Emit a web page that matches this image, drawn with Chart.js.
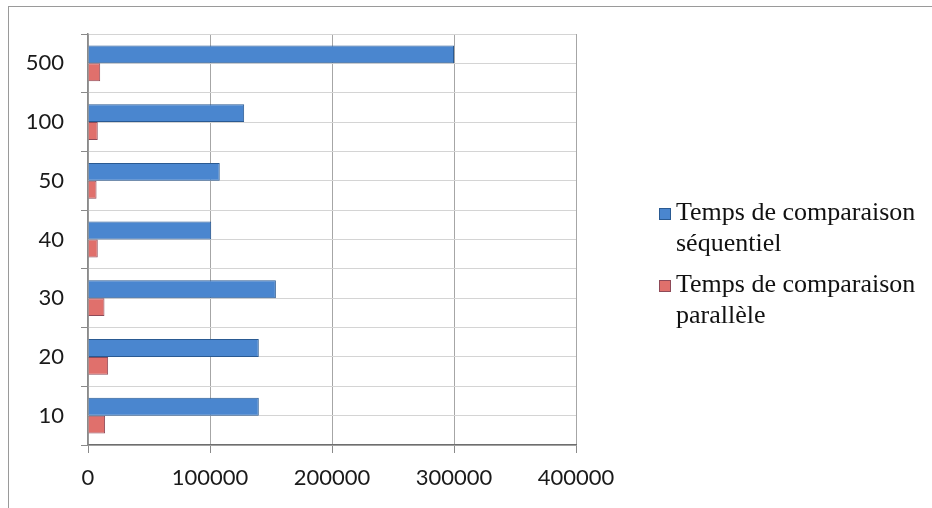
<!DOCTYPE html>
<html lang="fr">
<head>
<meta charset="utf-8">
<script src="https://cdn.jsdelivr.net/npm/chart.js@4.4.1/dist/chart.umd.min.js"></script>
<style>
  html, body { margin: 0; padding: 0; background: #fff; }
  #wrap { position: relative; width: 932px; height: 508px; overflow: hidden; }
  #frame { position: absolute; left: 8px; top: 6px; right: -2px; bottom: -2px;
           border-left: 1.5px solid #9a9a9a; border-top: 1.5px solid #9a9a9a; }
  #c { position: absolute; left: 0; top: 0; }
  #legend { position: absolute; left: 659px; top: 196px; font-family: "Liberation Serif", "Times New Roman", serif;
            font-size: 26px; line-height: 31px; color: #111; }
  .item { position: relative; padding-left: 17px; margin-bottom: 10px; }
  .box { position: absolute; left: 0; top: 12px; width: 12px; height: 12px; box-sizing: border-box; }
</style>
</head>
<body>
<div id="wrap">
  <div id="frame"></div>
  <canvas id="c" width="932" height="508"></canvas>
  <div id="legend"></div>
</div>
<script>
// Number of compared items (top to bottom) and comparison times
const categories = ['500', '100', '50', '40', '30', '20', '10'];
const sequentialTimes = [300000, 128000, 108000, 101000, 154000, 140000, 140000];
const parallelTimes = [10000, 8000, 7000, 8000, 13500, 16500, 14000];
const seriesNames = [['Temps de comparaison', 'séquentiel'], ['Temps de comparaison', 'parallèle']];
const xTicks = [0, 100000, 200000, 300000, 400000];

const colors = [
  { fill: '#4a86cf', border: '#2a5a92' },
  { fill: '#e0706c', border: '#8e4a58' }
];

const tickFont = { family: 'Lato, "Open Sans", sans-serif', size: 22 };

const chart = new Chart(document.getElementById('c'), {
  type: 'bar',
  data: {
    labels: categories,
    datasets: [
      { label: seriesNames[0].join(' '), data: sequentialTimes,
        backgroundColor: colors[0].fill, borderColor: colors[0].border, borderWidth: 1,
        categoryPercentage: 0.61, barPercentage: 1.0 },
      { label: seriesNames[1].join(' '), data: parallelTimes,
        backgroundColor: colors[1].fill, borderColor: colors[1].border, borderWidth: 1,
        categoryPercentage: 0.61, barPercentage: 1.0 }
    ]
  },
  options: {
    indexAxis: 'y',
    responsive: false,
    animation: false,
    layout: { padding: { left: 0, right: 356, top: 34, bottom: 0 } },
    plugins: { legend: { display: false }, tooltip: { enabled: false } },
    scales: {
      x: {
        min: 0, max: 400000,
        afterBuildTicks: s => { s.ticks = xTicks.map(v => ({ value: v })); },
        afterFit: s => { s.height = 63; },
        ticks: { font: tickFont, color: '#1a1a1a', padding: 12, maxRotation: 0,
                 callback: v => String(v) },
        grid: { color: '#a6a6a6', lineWidth: 1, tickLength: 8, tickColor: '#8a8a8a' },
        border: { display: true, color: '#6e6e6e', width: 1.5 }
      },
      y: {
        afterFit: s => { s.width = 88; },
        ticks: { font: tickFont, color: '#1a1a1a', padding: 17 },
        grid: { offset: true, color: '#d4d4d4', lineWidth: 1, tickLength: 7, tickColor: '#8a8a8a' },
        border: { display: true, color: '#8a8a8a', width: 1.5 }
      },
      yMid: {
        type: 'category',
        axis: 'y',
        position: 'right',
        labels: categories,
        offset: true,
        afterFit: s => { s.width = 0; },
        ticks: { display: false },
        grid: { offset: false, color: '#d4d4d4', lineWidth: 1, drawTicks: false },
        border: { display: false }
      }
    }
  }
});

// Legend built from the dataset names and colours
const legend = document.getElementById('legend');
seriesNames.forEach((lines, i) => {
  const item = document.createElement('div');
  item.className = 'item';
  const box = document.createElement('span');
  box.className = 'box';
  box.style.background = colors[i].fill;
  box.style.border = '1px solid ' + colors[i].border;
  item.appendChild(box);
  lines.forEach(t => {
    const line = document.createElement('div');
    line.textContent = t;
    item.appendChild(line);
  });
  legend.appendChild(item);
});
</script>
</body>
</html>
